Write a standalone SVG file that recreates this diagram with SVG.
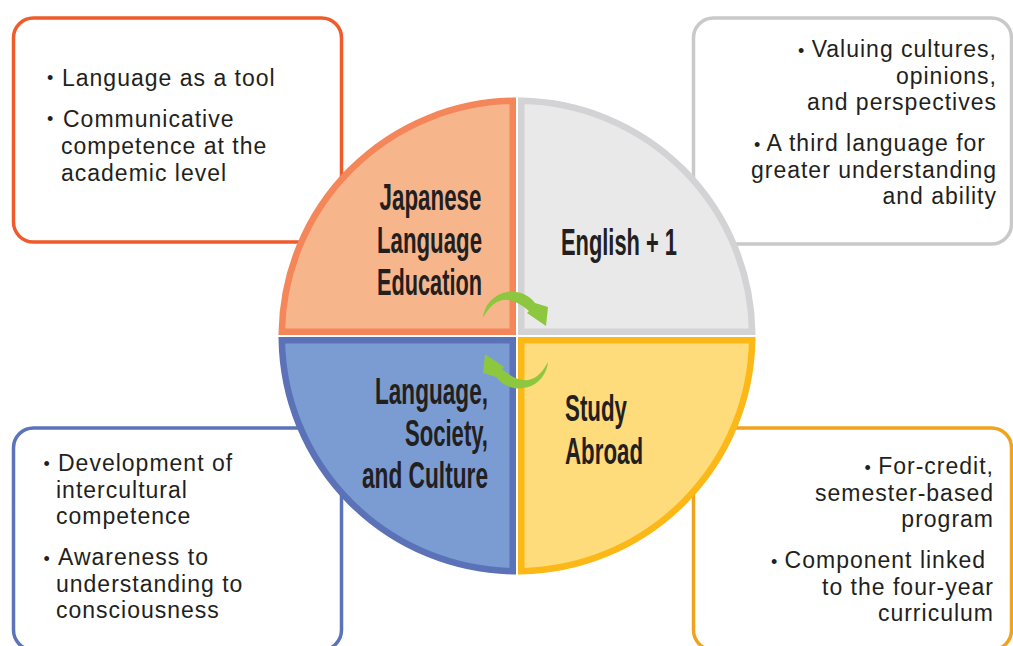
<svg xmlns="http://www.w3.org/2000/svg" width="1013" height="646" viewBox="0 0 1013 646">
<style>
.box{fill:#FFFFFF;stroke-width:3.5}
.q{stroke-width:6.5;stroke-linejoin:miter}
.body{font-family:"Liberation Sans",Arial,sans-serif;font-size:23px;fill:#231F20;letter-spacing:1px}
.r{text-anchor:end}
.bul{font-size:18px;letter-spacing:0}
.lbl{font-family:"Liberation Sans",Arial,sans-serif;font-weight:bold;font-size:37px;fill:#231F20}
.arr{fill:#8DC63F}
</style>
<defs>
<path id="arrow" d="M483,318 A29,29 0 0 1 535,303 L548,307 L546,326 L527,313 L529,311 Q500,285.5 483,318 Z"/>
</defs>
<rect width="1013" height="646" fill="#FFFFFF"/>

<g id="box-japanese">
<rect class="box" x="13.5" y="18" width="328" height="224" rx="20" stroke="#EF5B2B"/>
<text class="body bul" x="47" y="84">•</text>
<text class="body" x="62" y="86">Language as a tool</text>
<text class="body bul" x="47" y="125">•</text>
<text class="body" x="63" y="127">Communicative</text>
<text class="body" x="61" y="154">competence at the</text>
<text class="body" x="61" y="181">academic level</text>
</g>

<g id="box-english">
<rect class="box" x="693.5" y="18" width="318" height="226" rx="20" stroke="#C9C9C9"/>
<text class="body r" x="997" y="57"><tspan class="bul">•</tspan> Valuing cultures,</text>
<text class="body r" x="997" y="83.5">opinions,</text>
<text class="body r" x="997" y="110">and perspectives</text>
<text class="body r" x="986" y="151"><tspan class="bul">•</tspan> A third language for</text>
<text class="body r" x="997" y="177.5">greater understanding</text>
<text class="body r" x="997" y="204">and ability</text>
</g>

<g id="box-society">
<rect class="box" x="13.5" y="428" width="328" height="222" rx="20" stroke="#5B73B9"/>
<text class="body bul" x="43.5" y="469.5">•</text>
<text class="body" x="58" y="471">Development of</text>
<text class="body" x="56" y="497.5">intercultural</text>
<text class="body" x="56" y="524">competence</text>
<text class="body bul" x="43.5" y="564.5">•</text>
<text class="body" x="58" y="565">Awareness to</text>
<text class="body" x="56" y="591.5">understanding to</text>
<text class="body" x="56" y="618">consciousness</text>
</g>

<g id="box-study">
<rect class="box" x="693.5" y="428" width="318" height="222" rx="20" stroke="#F0A31E"/>
<text class="body r" x="994" y="474"><tspan class="bul">•</tspan> For-credit,</text>
<text class="body r" x="994" y="500.5">semester-based</text>
<text class="body r" x="994" y="527">program</text>
<text class="body r" x="986" y="568"><tspan class="bul">•</tspan> Component linked</text>
<text class="body r" x="994" y="594.5">to the four-year</text>
<text class="body r" x="994" y="621">curriculum</text>
</g>

<g id="node-japanese">
<path class="q" d="M512.75,331.75 L512.75,100.8 A235.25,235.25 0 0 0 281.8,331.75 Z" fill="#F7B58C" stroke="#F5865A"/>
<text class="lbl" x="379.5" y="210" textLength="102" lengthAdjust="spacingAndGlyphs">Japanese</text>
<text class="lbl" x="377" y="252.5" textLength="105" lengthAdjust="spacingAndGlyphs">Language</text>
<text class="lbl" x="377" y="295" textLength="105" lengthAdjust="spacingAndGlyphs">Education</text>
</g>

<g id="node-english">
<path class="q" d="M521.25,331.75 L521.25,100.8 A235.25,235.25 0 0 1 752.2,331.75 Z" fill="#E9E9E9" stroke="#D3D3D5"/>
<text class="lbl" x="561" y="255" textLength="116" lengthAdjust="spacingAndGlyphs">English + 1</text>
</g>

<g id="node-society">
<path class="q" d="M512.75,340.25 L281.8,340.25 A235.25,235.25 0 0 0 512.75,571.2 Z" fill="#7A9CD2" stroke="#5B72B8"/>
<text class="lbl" x="375" y="404" textLength="113" lengthAdjust="spacingAndGlyphs">Language,</text>
<text class="lbl" x="405" y="446" textLength="83" lengthAdjust="spacingAndGlyphs">Society,</text>
<text class="lbl" x="362" y="488" textLength="126" lengthAdjust="spacingAndGlyphs">and Culture</text>
</g>

<g id="node-study">
<path class="q" d="M521.25,340.25 L752.2,340.25 A235.25,235.25 0 0 1 521.25,571.2 Z" fill="#FEDB7B" stroke="#FBB817"/>
<text class="lbl" x="565" y="421" textLength="62" lengthAdjust="spacingAndGlyphs">Study</text>
<text class="lbl" x="565" y="464" textLength="78" lengthAdjust="spacingAndGlyphs">Abroad</text>
</g>

<g id="connectors">
<use href="#arrow" class="arr"/>
<use href="#arrow" class="arr" transform="rotate(180 515.5 340)"/>
</g>
</svg>
